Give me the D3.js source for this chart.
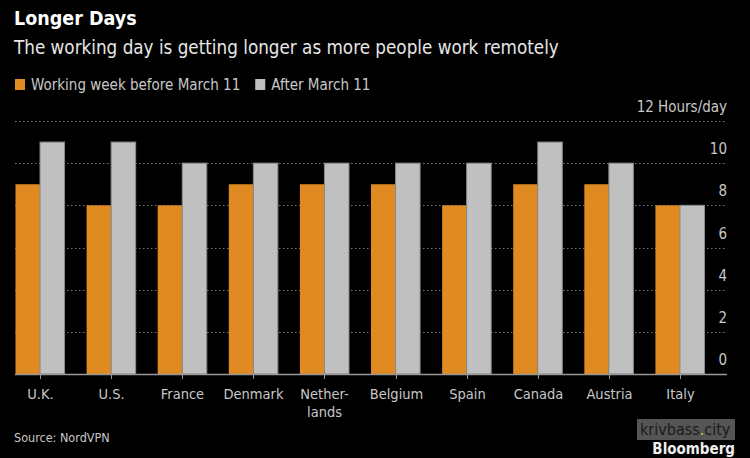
<!DOCTYPE html>
<html><head><meta charset="utf-8">
<script src="https://cdn.jsdelivr.net/npm/d3@7"></script>
<style>
html,body{margin:0;padding:0;background:#000;}
svg{display:block;}
text{font-family:"DejaVu Sans Condensed","DejaVu Sans",sans-serif;}
</style></head>
<body><svg id="c" width="750" height="458"></svg>
<script>
const categories = ["U.K.","U.S.","France","Denmark","Nether-|lands","Belgium","Spain","Canada","Austria","Italy"];
const before = [9,8,8,9,9,9,8,9,9,8];
const after = [11,11,10,10,10,10,10,11,10,8];
const seriesNames = ["Working week before March 11","After March 11"];
const yTicks = [0,2,4,6,8,10,12];

const W=750,H=458;
const svg=d3.select("#c");
svg.append("rect").attr("width",W).attr("height",H).attr("fill","#000");

const colors=["#e08a22","#c0c0c0"];
const plotLeft=15, axisRight=727, plotTop=121, plotBottom=374;

const x=d3.scaleBand().domain(categories).range([15.5,704.5]).paddingInner(0.31).paddingOuter(0.0);
const y=d3.scaleLinear().domain([0,12]).range([plotBottom,plotTop]);

// title
svg.append("text").attr("x",14).attr("y",25).attr("fill","#fff").attr("font-size",19.5).attr("font-weight","bold").text("Longer Days");
svg.append("text").attr("x",14).attr("y",54).attr("fill","#e6e6e6").attr("font-size",18.7).text("The working day is getting longer as more people work remotely");

// legend
const lg=svg.append("g");
let lx=15;
seriesNames.forEach((n,i)=>{
  lg.append("rect").attr("x",lx).attr("y",79).attr("width",10).attr("height",11).attr("fill",colors[i]);
  const t=lg.append("text").attr("x",lx+16).attr("y",90).attr("fill","#c8c8c8").attr("font-size",15).text(n);
  lx+=16+t.node().getComputedTextLength()+15;
});

// gridlines
const grid=svg.append("g");
yTicks.filter(d=>d>0).forEach(d=>{
  grid.append("line").attr("x1",plotLeft).attr("x2",axisRight).attr("y1",Math.round(y(d))+0.5).attr("y2",Math.round(y(d))+0.5)
    .attr("stroke","#777").attr("stroke-width",1).attr("stroke-dasharray","1.5,2.5");
});
// y labels
yTicks.forEach(d=>{
  svg.append("text").attr("x",axisRight).attr("y",y(d)-9).attr("text-anchor","end").attr("fill","#c8c8c8").attr("font-size",15)
    .text(d===12?"12 Hours/day":d);
});

// bars
const bw=x.bandwidth()/2;
const g=svg.append("g");
categories.forEach((c,i)=>{
  [before[i],after[i]].forEach((v,j)=>{
    g.append("rect").attr("x",x(c)+j*bw).attr("y",y(v)).attr("width",bw).attr("height",y(0)-y(v))
      .attr("fill",colors[j]).attr("stroke",j===1?"#8a8a8a":"none").attr("stroke-width",j===1?1:0);
  });
});

// baseline + ticks
svg.append("line").attr("x1",plotLeft).attr("x2",axisRight).attr("y1",plotBottom+0.5).attr("y2",plotBottom+0.5).attr("stroke","#999").attr("stroke-width",1.5);
categories.forEach(c=>{
  const cx=Math.round(x(c)+x.bandwidth()/2)+0.5;
  svg.append("line").attr("x1",cx).attr("x2",cx).attr("y1",plotBottom).attr("y2",plotBottom+5).attr("stroke","#999");
  const parts=c.split("|");
  const t=svg.append("text").attr("x",cx).attr("y",399).attr("text-anchor","middle").attr("fill","#c8c8c8").attr("font-size",14.5);
  parts.forEach((p,k)=>t.append("tspan").attr("x",cx).attr("dy",k===0?0:18).text(p));
});

// source
svg.append("text").attr("x",14).attr("y",442).attr("fill","#c8c8c8").attr("font-size",12.5).text("Source: NordVPN");

// watermark
svg.append("rect").attr("x",637).attr("y",419).attr("width",98).attr("height",21).attr("fill","#555");
const wm=svg.append("text").attr("x",640).attr("y",435).attr("fill","#1a1a1a").attr("font-size",16).attr("font-family","Liberation Sans Narrow, sans-serif");
wm.append("tspan").text("krivbass");
wm.append("tspan").attr("fill","#9be23a").text(".");
wm.append("tspan").text("city");
svg.append("text").attr("x",735).attr("y",454).attr("text-anchor","end").attr("fill","#eee").attr("font-size",15).attr("font-weight","bold").attr("font-family","Liberation Sans Narrow, sans-serif").text("Bloomberg");
</script></body></html>
